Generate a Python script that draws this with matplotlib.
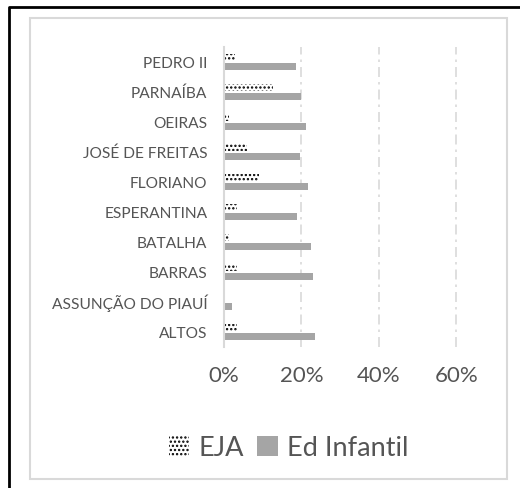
import numpy as np
import matplotlib.pyplot as plt
from matplotlib.patches import Patch, Rectangle
from matplotlib.lines import Line2D
from matplotlib.ticker import FuncFormatter

plt.rcParams['font.family'] = ['Lato', 'DejaVu Sans']
plt.rcParams['hatch.linewidth'] = 1.1

# Municípios (de baixo para cima, como no gráfico)
municipios = ['ALTOS', 'ASSUNÇÃO DO PIAUÍ', 'BARRAS', 'BATALHA', 'ESPERANTINA',
              'FLORIANO', 'JOSÉ DE FREITAS', 'OEIRAS', 'PARNAÍBA', 'PEDRO II']
eja = [0.034, 0.0, 0.033, 0.013, 0.034, 0.090, 0.059, 0.013, 0.127, 0.028]
ed_infantil = [0.234, 0.021, 0.231, 0.226, 0.188, 0.217, 0.196, 0.211, 0.200, 0.186]
xticks = [0, 0.2, 0.4, 0.6]

texto = '#555555'
cinza = '#a5a5a5'
grade = '#d9d9d9'

fig = plt.figure(figsize=(5.2, 4.88), dpi=100)
ax = fig.add_axes([224 / 520, 1 - 347 / 488, (495 - 224) / 520, 300 / 488])

y = np.arange(len(municipios))
h = 0.23
ax.barh(y - 0.14, ed_infantil, height=h, color=cinza, linewidth=0, zorder=3)
ax.barh(y + 0.14, eja, height=h, facecolor='white', edgecolor='black',
        hatch='....', linewidth=0, zorder=3)

ax.set_xlim(0, 0.7)
ax.set_ylim(-0.5, len(municipios) - 0.5)
ax.set_xticks(xticks)
ax.xaxis.set_major_formatter(FuncFormatter(lambda v, p: f'{v * 100:.0f}%'))
ax.set_yticks(y)
ax.set_yticklabels(municipios)

for s in ['top', 'right', 'bottom']:
    ax.spines[s].set_visible(False)
ax.spines['left'].set_color(grade)
ax.spines['left'].set_linewidth(1.5)
ax.spines['left'].set_zorder(4)

ax.xaxis.grid(True, color=grade, linewidth=1.2, linestyle=(0, (6, 3, 1.5, 3)))
ax.tick_params(axis='both', length=0)
ax.tick_params(axis='x', labelsize=16, labelcolor=texto, pad=14)
ax.tick_params(axis='y', labelsize=11.2, labelcolor=texto, pad=12)

handles = [Patch(facecolor='white', edgecolor='black', hatch='....', linewidth=0),
           Patch(facecolor=cinza, linewidth=0)]
fig.legend(handles, ['EJA', 'Ed Infantil'], loc='center', ncol=2,
           bbox_to_anchor=(0.555, 1 - 448 / 488), frameon=False,
           fontsize=19.5, labelcolor=texto, handlelength=0.75, handleheight=0.75,
           handletextpad=0.35, columnspacing=0.5)

# bordas: moldura cinza do gráfico e moldura preta externa
fig.patches.append(Rectangle((30 / 520, 1 - 479 / 488), 477 / 520, 461 / 488,
                             transform=fig.transFigure, fill=False,
                             edgecolor=grade, linewidth=1.5))
fig.lines.append(Line2D([9 / 520, 9 / 520, 1], [0, 1 - 7 / 488, 1 - 7 / 488],
                        transform=fig.transFigure, color='black', linewidth=2))

fig.savefig('out.png', dpi=100)
